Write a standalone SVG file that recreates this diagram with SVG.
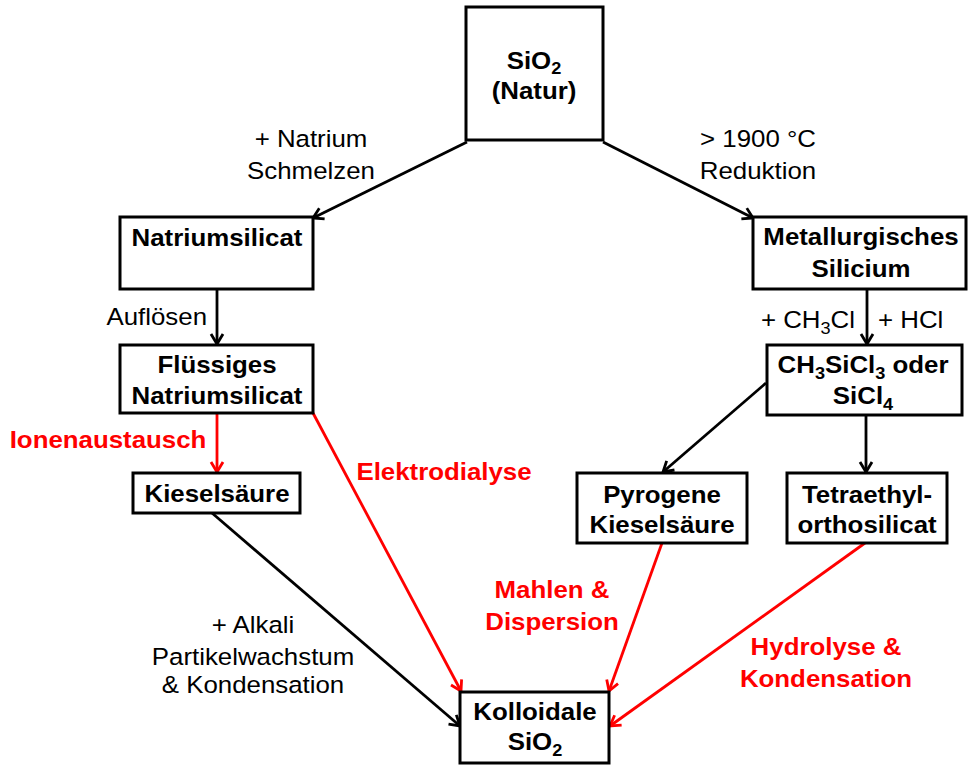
<svg xmlns="http://www.w3.org/2000/svg" width="971" height="765" viewBox="0 0 971 765">
<defs>
<style>
.box{fill:#fff;stroke:#000;stroke-width:3}
.c{fill:none;stroke:#000;stroke-width:2.8}
.cr{fill:none;stroke:#f00;stroke-width:2.8}
text{font-family:"Liberation Sans",Arial,sans-serif;font-size:23.5px;text-anchor:middle}
.b{font-weight:bold;fill:#000}
.l{fill:#000}
.r{font-weight:bold;fill:#f00}
.s{font-size:16.5px}
</style>
<marker id="ak" markerUnits="userSpaceOnUse" markerWidth="16" markerHeight="16" viewBox="0 0 16 16" refX="13" refY="8" orient="auto">
<path d="M3,2 L13,8 L3,14" fill="none" stroke="#000" stroke-width="2.8"/>
</marker>
<marker id="ar" markerUnits="userSpaceOnUse" markerWidth="16" markerHeight="16" viewBox="0 0 16 16" refX="13" refY="8" orient="auto">
<path d="M3,2 L13,8 L3,14" fill="none" stroke="#f00" stroke-width="2.8"/>
</marker>
</defs>
<rect width="971" height="765" fill="#fff"/>

<g id="connectors">
<line class="c" x1="467" y1="142" x2="313" y2="218" marker-end="url(#ak)"/>
<line class="c" x1="603" y1="142" x2="753" y2="218" marker-end="url(#ak)"/>
<line class="c" x1="217" y1="289" x2="217" y2="344" marker-end="url(#ak)"/>
<line class="c" x1="867" y1="289" x2="867" y2="344" marker-end="url(#ak)"/>
<line class="cr" x1="217" y1="413" x2="217" y2="472" marker-end="url(#ar)"/>
<line class="cr" x1="313" y1="413" x2="461" y2="691" marker-end="url(#ar)"/>
<line class="c" x1="766" y1="383" x2="663" y2="472" marker-end="url(#ak)"/>
<line class="c" x1="866" y1="415" x2="866" y2="472" marker-end="url(#ak)"/>
<line class="c" x1="212" y1="513" x2="460" y2="726" marker-end="url(#ak)"/>
<line class="cr" x1="662" y1="543" x2="609" y2="691" marker-end="url(#ar)"/>
<line class="cr" x1="865" y1="543" x2="610" y2="726" marker-end="url(#ar)"/>
</g>

<g id="labels">
<text class="l" transform="translate(311,147) scale(1.1,1)">+ Natrium</text>
<text class="l" transform="translate(311,179) scale(1.1,1)">Schmelzen</text>
<text class="l" transform="translate(758,147) scale(1.1,1)">&gt; 1900 °C</text>
<text class="l" transform="translate(758,179) scale(1.1,1)">Reduktion</text>
<text class="l" style="text-anchor:end" transform="translate(207,325) scale(1.1,1)">Auflösen</text>
<text class="l" style="text-anchor:end" transform="translate(855,328) scale(1.1,1)">+ CH<tspan class="s" dy="6">3</tspan><tspan dy="-6">Cl</tspan></text>
<text class="l" style="text-anchor:start" transform="translate(878,328) scale(1.1,1)">+ HCl</text>
<text class="r" transform="translate(108,448) scale(1.1,1)">Ionenaustausch</text>
<text class="r" transform="translate(444,480) scale(1.1,1)">Elektrodialyse</text>
<text class="l" transform="translate(253,633) scale(1.1,1)">+ Alkali</text>
<text class="l" transform="translate(253,665) scale(1.1,1)">Partikelwachstum</text>
<text class="l" transform="translate(253,693) scale(1.1,1)">&amp; Kondensation</text>
<text class="r" transform="translate(552,598) scale(1.1,1)">Mahlen &amp;</text>
<text class="r" transform="translate(552,630) scale(1.1,1)">Dispersion</text>
<text class="r" transform="translate(826,655) scale(1.1,1)">Hydrolyse &amp;</text>
<text class="r" transform="translate(826,687) scale(1.1,1)">Kondensation</text>
</g>

<g id="sio2-natur">
<rect class="box" x="466" y="7" width="137" height="133"/>
<text class="b" transform="translate(534,69) scale(1.1,1)">SiO<tspan class="s" dy="5">2</tspan></text>
<text class="b" transform="translate(534,99) scale(1.1,1)">(Natur)</text>
</g>

<g id="natriumsilicat">
<rect class="box" x="120" y="217" width="193" height="72"/>
<text class="b" transform="translate(217,246) scale(1.1,1)">Natriumsilicat</text>
</g>

<g id="fluessiges-natriumsilicat">
<rect class="box" x="120" y="345" width="193" height="68"/>
<text class="b" transform="translate(217,373) scale(1.1,1)">Flüssiges</text>
<text class="b" transform="translate(217,404) scale(1.1,1)">Natriumsilicat</text>
</g>

<g id="kieselsaeure">
<rect class="box" x="133" y="473" width="167" height="40"/>
<text class="b" transform="translate(217,502) scale(1.1,1)">Kieselsäure</text>
</g>

<g id="metallurgisches-silicium">
<rect class="box" x="753" y="217" width="213" height="72"/>
<text class="b" transform="translate(861,245) scale(1.1,1)">Metallurgisches</text>
<text class="b" transform="translate(861,277) scale(1.1,1)">Silicium</text>
</g>

<g id="ch3sicl3">
<rect class="box" x="767" y="345" width="195" height="70"/>
<text class="b" transform="translate(863,373) scale(1.1,1)">CH<tspan class="s" dy="6">3</tspan><tspan dy="-6">SiCl</tspan><tspan class="s" dy="6">3</tspan><tspan dy="-6"> oder</tspan></text>
<text class="b" transform="translate(863,404) scale(1.1,1)">SiCl<tspan class="s" dy="6">4</tspan></text>
</g>

<g id="pyrogene-kieselsaeure">
<rect class="box" x="577" y="473" width="170" height="70"/>
<text class="b" transform="translate(662,503) scale(1.1,1)">Pyrogene</text>
<text class="b" transform="translate(662,533) scale(1.1,1)">Kieselsäure</text>
</g>

<g id="tetraethylorthosilicat">
<rect class="box" x="787" y="473" width="160" height="70"/>
<text class="b" transform="translate(867,503) scale(1.1,1)">Tetraethyl-</text>
<text class="b" transform="translate(867,533) scale(1.1,1)">orthosilicat</text>
</g>

<g id="kolloidale-sio2">
<rect class="box" x="460" y="692" width="149" height="71"/>
<text class="b" transform="translate(535,720) scale(1.1,1)">Kolloidale</text>
<text class="b" transform="translate(535,750) scale(1.1,1)">SiO<tspan class="s" dy="6">2</tspan></text>
</g>
</svg>
